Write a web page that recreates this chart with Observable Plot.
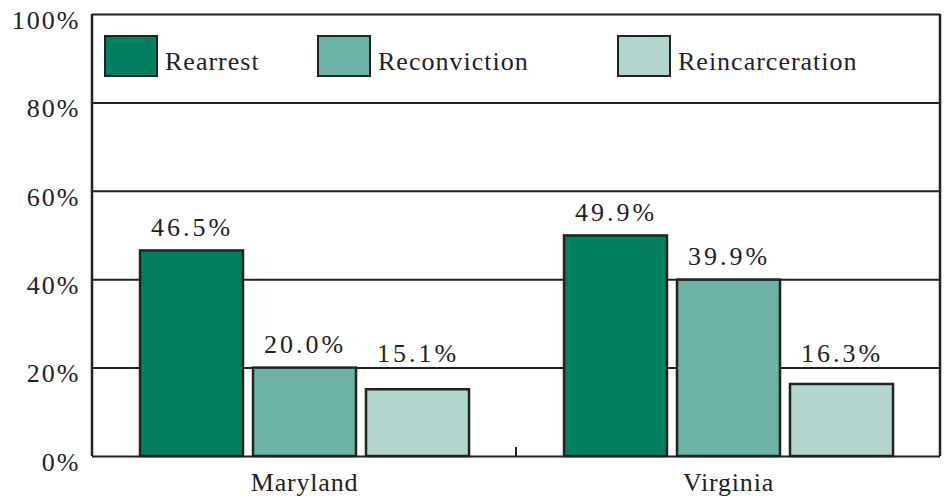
<!DOCTYPE html>
<html>
<head>
<meta charset="utf-8">
<script src="https://cdn.jsdelivr.net/npm/d3@7"></script>
<script src="https://cdn.jsdelivr.net/npm/@observablehq/plot@0.6"></script>
<style>
  html, body { margin: 0; padding: 0; background: #fff; }
  #wrap { position: relative; width: 948px; height: 501px; font-family: "Liberation Serif", "DejaVu Serif", serif; color: #222; }
  #wrap svg text { font-family: "Liberation Serif", "DejaVu Serif", serif; }
  #wrap svg g[aria-label="text"] text { letter-spacing: 3px; }
  #wrap svg g[aria-label="y-axis tick label"] text { letter-spacing: 2px; }
  #wrap svg g[aria-label="fx-axis tick label"] text { letter-spacing: 0.8px; }
  .lg { position: absolute; display: flex; align-items: flex-end; font-size: 26px; letter-spacing: 1px; }
  .sw { width: 50px; height: 38px; border: 2.5px solid #222; margin-right: 7px; }
  .lt { line-height: 1; margin-bottom: 2px; }
</style>
</head>
<body>
<div id="wrap"></div>
<script>
const states = ["Maryland", "Virginia"];
const series = ["Rearrest", "Reconviction", "Reincarceration"];
const maryland = [46.5, 20.0, 15.1];
const virginia = [49.9, 39.9, 16.3];
const yTicks = [0, 20, 40, 60, 80, 100];
const colors = ["#00805f", "#6cb3a5", "#b2d5cd"];
// value labels of short bars are lifted to this level so they clear the 20% gridline
const minLabelLevel = 18;

const values = [maryland, virginia];
const data = states.flatMap((s, i) => series.map((k, j) => ({state: s, series: k, value: values[i][j]})));

const W = 948, H = 501, ML = 92, MR = 8, MT = 14, MB = 45;

const chart = Plot.plot({
  width: W,
  height: H,
  marginLeft: ML,
  marginRight: MR,
  marginTop: MT,
  marginBottom: MB,
  style: {fontFamily: "'Liberation Serif', 'DejaVu Serif', serif", fontSize: "26px", color: "#222", background: "white", overflow: "visible"},
  fx: {domain: states, padding: 0, label: null, axis: null},
  x: {domain: series, paddingInner: 0.0885, paddingOuter: 0.42, axis: null},
  y: {domain: [0, 100], label: null, axis: null},
  color: {domain: series, range: colors},
  marks: [
    Plot.ruleY(yTicks, {y: d => d, stroke: "#222", strokeWidth: 2}),
    Plot.barY(data, {fx: "state", x: "series", y: "value", fill: "series", stroke: "#222", strokeWidth: 2.5}),
    Plot.text(data, {fx: "state", x: "series", y: d => Math.max(d.value, minLabelLevel), text: d => d.value.toFixed(1) + "%", dy: -15, lineAnchor: "bottom", fill: "#222", fontSize: 26}),
    Plot.axisY(yTicks, {tickSize: 0, tickPadding: 12, tickFormat: d => d + "%", label: null, dy: 6, fontSize: 26, fill: "#222"}),
    Plot.axisFx({anchor: "bottom", tickSize: 0, tickPadding: 16, label: null, fontSize: 26, fill: "#222"})
  ]
});

const wrap = document.getElementById("wrap");
wrap.appendChild(chart);

// frame sides and category-boundary ticks, placed with the chart's fx scale
const fx = chart.scale("fx");
const svg = d3.select(chart.tagName.toLowerCase() === "svg" ? chart : chart.querySelector("svg"));
const g = svg.append("g").attr("stroke", "#222");
const y0 = MT, y1 = H - MB;
const left = fx.apply(states[0]);
const edges = states.map(s => fx.apply(s) + fx.bandwidth);
g.append("line").attr("x1", left).attr("x2", left).attr("y1", y0).attr("y2", y1).attr("stroke-width", 2.5);
g.append("line").attr("x1", edges[edges.length - 1]).attr("x2", edges[edges.length - 1]).attr("y1", y0).attr("y2", y1).attr("stroke-width", 2.5);
edges.forEach(xe => {
  g.append("line").attr("x1", xe).attr("x2", xe).attr("y1", y1 - 9).attr("y2", y1).attr("stroke-width", 2);
});

const legendX = [104, 317, 617];
series.forEach((s, i) => {
  const item = document.createElement("div");
  item.className = "lg";
  item.style.left = legendX[i] + "px";
  item.style.top = "35px";
  const sw = document.createElement("div");
  sw.className = "sw";
  sw.style.background = colors[i];
  const t = document.createElement("span");
  t.className = "lt";
  t.textContent = s;
  item.appendChild(sw);
  item.appendChild(t);
  wrap.appendChild(item);
});
</script>
</body>
</html>
